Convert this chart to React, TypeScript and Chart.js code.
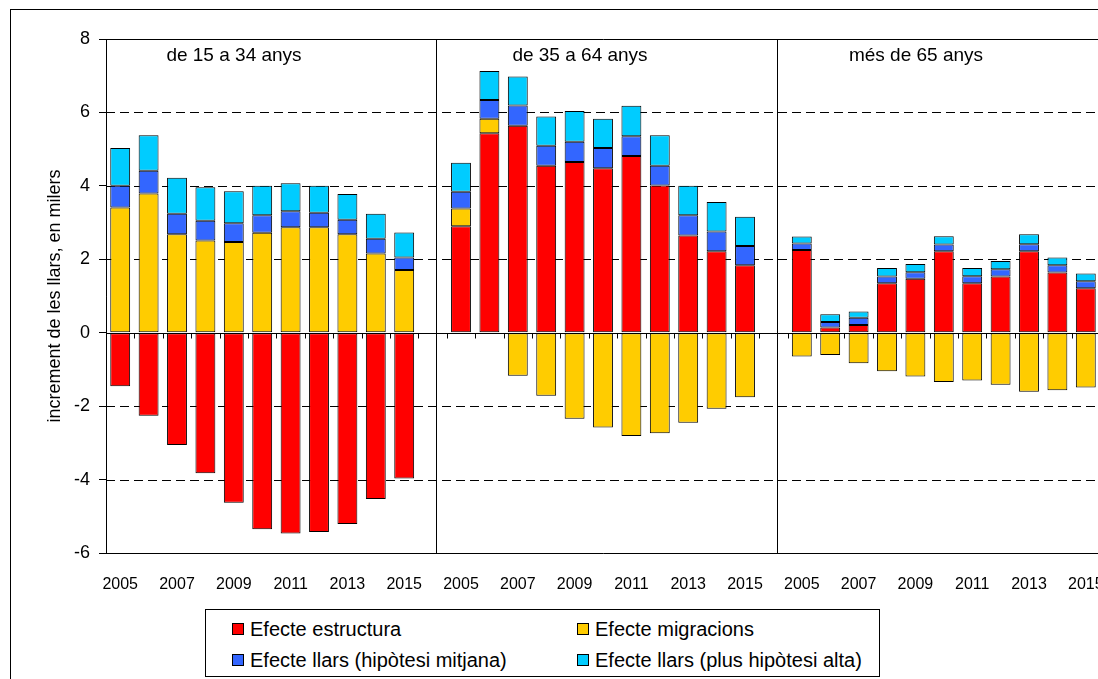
import React, { useEffect, useRef } from "react";
import { Chart, registerables } from "chart.js";

Chart.register(...registerables);

const years = ["2005", "2006", "2007", "2008", "2009", "2010", "2011", "2012", "2013", "2014", "2015"];
const panelTitles = ["de 15 a 34 anys", "de 35 a 64 anys", "més de 65 anys"];
const yTicks = [-6, -4, -2, 0, 2, 4, 6, 8];

// Efecte estructura
const estr15 = [-1.46, -2.26, -3.06, -3.83, -4.63, -5.35, -5.47, -5.43, -5.21, -4.53, -3.97];
const estr35 = [2.9, 5.43, 5.64, 4.55, 4.65, 4.48, 4.81, 4.01, 2.65, 2.22, 1.84];
const estr65 = [2.25, 0.14, 0.21, 1.35, 1.47, 2.22, 1.35, 1.53, 2.22, 1.64, 1.21];
// Efecte migracions
const migr15 = [3.41, 3.79, 2.68, 2.51, 2.47, 2.72, 2.87, 2.87, 2.68, 2.16, 1.71];
const migr35 = [0.48, 0.4, -1.17, -1.72, -2.34, -2.58, -2.81, -2.74, -2.45, -2.07, -1.76];
const migr65 = [-0.65, -0.61, -0.83, -1.05, -1.19, -1.34, -1.3, -1.42, -1.61, -1.57, -1.49];
// Efecte llars (hipòtesi mitjana)
const mitj15 = [0.59, 0.62, 0.56, 0.54, 0.51, 0.48, 0.44, 0.4, 0.4, 0.4, 0.34];
const mitj35 = [0.46, 0.51, 0.55, 0.54, 0.55, 0.55, 0.54, 0.54, 0.55, 0.54, 0.52];
const mitj65 = [0.18, 0.15, 0.2, 0.18, 0.18, 0.18, 0.19, 0.2, 0.19, 0.2, 0.19];
// Efecte llars (plus hipòtesi alta)
const alta15 = [1.03, 0.97, 0.98, 0.91, 0.87, 0.8, 0.76, 0.73, 0.7, 0.68, 0.68];
const alta35 = [0.79, 0.79, 0.79, 0.8, 0.84, 0.8, 0.83, 0.83, 0.8, 0.8, 0.8];
const alta65 = [0.19, 0.21, 0.17, 0.23, 0.22, 0.23, 0.22, 0.22, 0.27, 0.21, 0.21];

const seriesNames = [
  "Efecte estructura",
  "Efecte migracions",
  "Efecte llars (hipòtesi mitjana)",
  "Efecte llars (plus hipòtesi alta)",
];
const seriesColors = ["#FF0000", "#FFCC00", "#3366FF", "#00CCFF"];

const labels = [...years, "", ...years, "", ...years];
const join = (a: number[], b: number[], c: number[]) => [...a, null, ...b, null, ...c];

const FONT = "'Liberation Sans', Arial, sans-serif";

const framePlugin = {
  id: "framePlugin",
  beforeDatasetsDraw(chart: any) {
    const { ctx, chartArea } = chart;
    const y = chart.scales.y;
    const x = chart.scales.x;
    const { left, right, top, bottom } = chartArea;
    ctx.save();
    ctx.strokeStyle = "#000";
    ctx.lineWidth = 1;
    // dashed grid
    ctx.setLineDash([9, 5]);
    yTicks.forEach((v) => {
      if (v === 0 || v === yTicks[0] || v === yTicks[yTicks.length - 1]) return;
      const py = Math.round(y.getPixelForValue(v)) + 0.5;
      ctx.beginPath();
      ctx.moveTo(left, py);
      ctx.lineTo(right, py);
      ctx.stroke();
    });
    ctx.setLineDash([]);
    ctx.restore();
  },
  afterDatasetsDraw(chart: any) {
    const { ctx, chartArea } = chart;
    const y = chart.scales.y;
    const x = chart.scales.x;
    const { left, right, top, bottom } = chartArea;
    ctx.save();
    ctx.strokeStyle = "#000";
    ctx.lineWidth = 1;
    // zero line
    const py0 = Math.round(y.getPixelForValue(0)) + 0.5;
    ctx.beginPath();
    ctx.moveTo(left, py0);
    ctx.lineTo(right, py0);
    ctx.stroke();
    // category boundary ticks on zero line
    const n = labels.length;
    const cw = (x.getPixelForValue(1) - x.getPixelForValue(0));
    for (let i = 0; i < n - 1; i++) {
      const px = Math.round(x.getPixelForValue(i) + cw / 2) + 0.5;
      ctx.beginPath();
      ctx.moveTo(px, py0);
      ctx.lineTo(px, py0 + 5);
      ctx.stroke();
    }
    // panel dividers
    [11, 23].forEach((i) => {
      const px = Math.round(x.getPixelForValue(i) + cw * 0.12) + 0.5;
      ctx.beginPath();
      ctx.moveTo(px, top);
      ctx.lineTo(px, bottom);
      ctx.stroke();
    });
    // frame
    ctx.beginPath();
    ctx.moveTo(right, Math.round(top) + 0.5);
    ctx.lineTo(Math.round(left) + 0.5, Math.round(top) + 0.5);
    ctx.lineTo(Math.round(left) + 0.5, Math.round(bottom) + 0.5);
    ctx.lineTo(right, Math.round(bottom) + 0.5);
    ctx.stroke();
    // panel titles
    ctx.fillStyle = "#000";
    ctx.font = `19px ${FONT}`;
    ctx.textAlign = "center";
    ctx.textBaseline = "middle";
    const tx = [234, 580, 916];
    panelTitles.forEach((t, i) => ctx.fillText(t, tx[i], 56));
    ctx.restore();
  },
};

export default function App() {
  const ref = useRef<HTMLCanvasElement | null>(null);
  useEffect(() => {
    if (!ref.current) return;
    const data = [
      join(estr15, estr35, estr65),
      join(migr15, migr35, migr65),
      join(mitj15, mitj35, mitj65),
      join(alta15, alta35, alta65),
    ];
    const chart = new Chart(ref.current, {
      type: "bar",
      data: {
        labels,
        datasets: data.map((d, i) => ({
          label: seriesNames[i],
          data: d,
          backgroundColor: seriesColors[i],
          borderColor: "#000",
          borderWidth: 1,
          borderSkipped: false,
          barPercentage: 0.7,
          categoryPercentage: 1,
        })),
      },
      options: {
        responsive: false,
        animation: false,
        layout: { padding: { top: 39, right: 30, left: 0, bottom: 0 } },
        plugins: { legend: { display: false }, tooltip: { enabled: false }, title: { display: false } },
        scales: {
          x: {
            stacked: true,
            grid: { display: false },
            border: { display: false },
            ticks: {
              autoSkip: false,
              maxRotation: 0,
              minRotation: 0,
              padding: 14,
              color: "#000",
              font: { family: FONT, size: 16 },
              callback: (_v: any, i: number) => {
                const l = labels[i];
                return l && parseInt(l, 10) % 2 === 1 ? l : "";
              },
            },
            afterFit: (s: any) => {
              s.height = 126;
            },
          },
          y: {
            stacked: true,
            min: -6,
            max: 8,
            ticks: {
              stepSize: 2,
              padding: 9,
              color: "#000",
              font: { family: FONT, size: 18 },
            },
            grid: {
              display: true,
              drawOnChartArea: false,
              drawTicks: true,
              tickLength: 7,
              color: "#000",
              tickColor: "#000",
            },
            border: { display: true, color: "#000" },
            title: {
              display: true,
              text: "increment de les llars, en milers",
              color: "#000",
              font: { family: FONT, size: 18 },
              padding: { top: 44, bottom: 0 },
            },
            afterFit: (s: any) => {
              s.width = 106;
            },
          },
        },
      },
      plugins: [framePlugin],
    });
    return () => chart.destroy();
  }, []);

  const legendRows = [
    [0, 1],
    [2, 3],
  ];
  const colX = [232, 577];
  const rowY = [629, 660];

  return (
    <div
      style={{
        position: "fixed",
        left: 0,
        top: 0,
        width: 1098,
        height: 679,
        overflow: "hidden",
        background: "#fff",
        fontFamily: FONT,
      }}
    >
      <div
        style={{
          position: "absolute",
          left: 10,
          top: 9,
          width: 1200,
          height: 800,
          border: "1px solid #000",
          boxSizing: "border-box",
        }}
      />
      <canvas ref={ref} width={1130} height={679} style={{ position: "absolute", left: 0, top: 0 }} />
      <div
        style={{
          position: "absolute",
          left: 205,
          top: 609,
          width: 675,
          height: 68,
          border: "1px solid #000",
          boxSizing: "border-box",
          background: "#fff",
        }}
      />
      {legendRows.map((row, r) =>
        row.map((si, c) => (
          <React.Fragment key={`${r}-${c}`}>
            <div
              style={{
                position: "absolute",
                left: colX[c],
                top: rowY[r] - 6,
                width: 12,
                height: 12,
                background: seriesColors[si],
                border: "1px solid #000",
                boxSizing: "border-box",
              }}
            />
            <div
              style={{
                position: "absolute",
                left: colX[c] + 18,
                top: rowY[r] - 12,
                height: 24,
                lineHeight: "24px",
                fontSize: 20,
                color: "#000",
                whiteSpace: "nowrap",
              }}
            >
              {seriesNames[si]}
            </div>
          </React.Fragment>
        ))
      )}
    </div>
  );
}
